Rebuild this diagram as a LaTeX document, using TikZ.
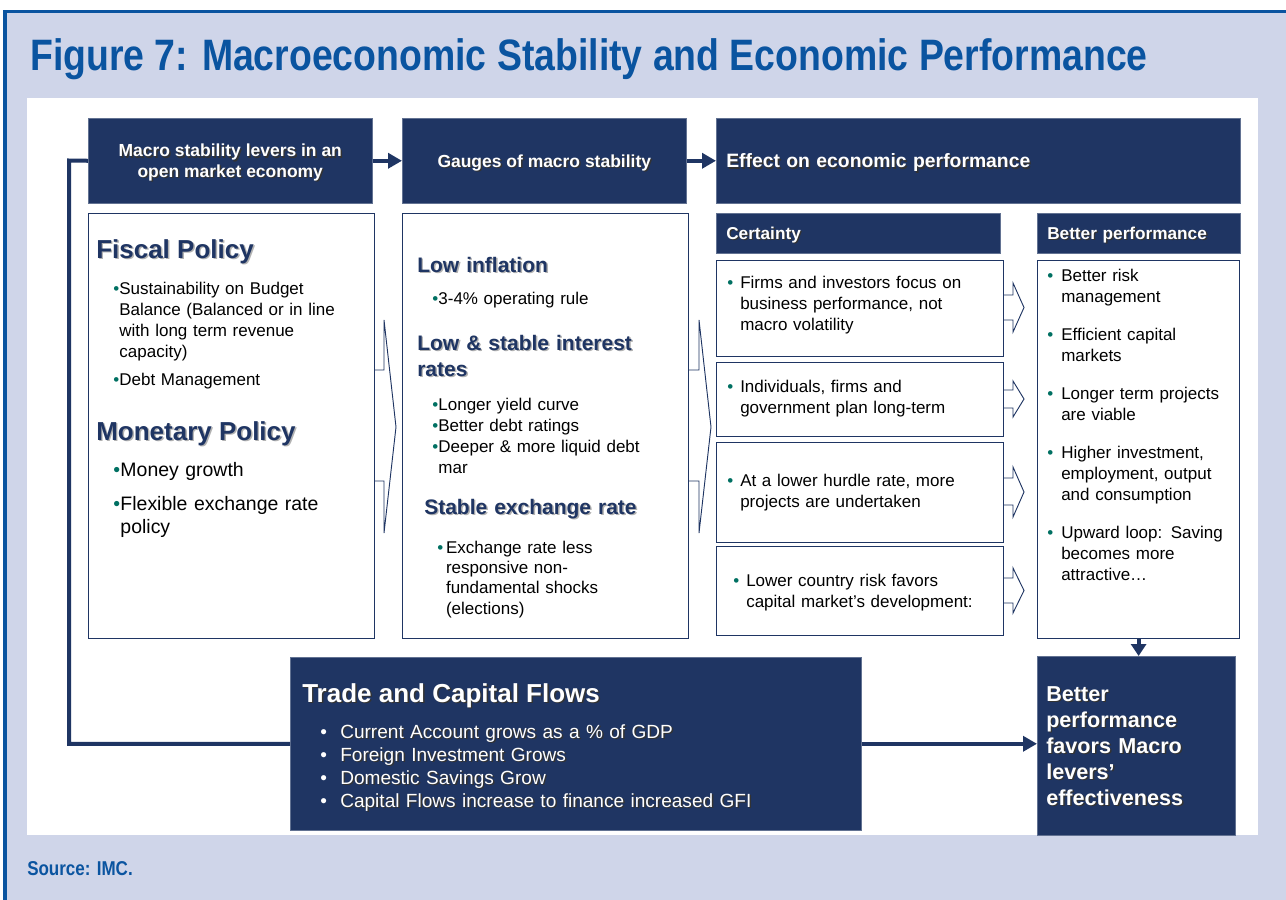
\documentclass[tikz,border=0pt]{standalone}
\usepackage{fontspec}
\setmainfont{Liberation Sans}
\newfontfamily\condfont[FakeStretch=0.85]{Liberation Sans}
\usetikzlibrary{arrows.meta}

\definecolor{navy}{RGB}{31,53,99}
\definecolor{figblue}{RGB}{10,84,160}
\definecolor{lavender}{RGB}{207,213,233}
\definecolor{dotteal}{RGB}{0,112,98}

% bullet item with a hanging indent of #1
\newcommand{\bitem}[2]{{\let\\\newline\hangindent=#1\hangafter=1\makebox[#1][l]{\textcolor{dotteal}{\textbullet}}#2\par}}
% text with a small drop shadow
\newcommand{\shadowed}[2][black!80]{\makebox[0pt][l]{\kern1.1pt\raisebox{-1.1pt}{\textcolor{#1}{#2}}}#2}

\begin{document}
\begin{tikzpicture}[x=0.75pt, y=-0.75pt]
	\tikzstyle{headStyle} = [fill=navy, draw=navy!70, text=white, inner sep=0pt, text depth=0pt, anchor=north west, font=\bfseries\fontsize{13.1pt}{15.5pt}\selectfont]
	\tikzstyle{subHeadStyle} = [headStyle, minimum height=30pt, inner xsep=7.5pt, text width=198pt, align=left, font=\bfseries\fontsize{12.9pt}{15pt}\selectfont]
	\tikzstyle{boxStyle} = [draw=navy, fill=white, line width=0.9pt, inner sep=0pt, anchor=north west]
	\tikzstyle{darkBoxStyle} = [fill=navy, draw=navy!70, inner sep=0pt, anchor=north west]
	\tikzstyle{bigHeading} = [anchor=base west, inner sep=0pt, text=navy, font=\bfseries\fontsize{19.5pt}{23pt}\selectfont]
	\tikzstyle{midHeading} = [anchor=base west, inner sep=0pt, text=navy, text width=200pt, align=left, font=\bfseries\fontsize{15.75pt}{19.5pt}\selectfont]
	\tikzstyle{listStyle} = [anchor=base west, inner sep=0pt, text width=200pt, align=left, font=\fontsize{12.75pt}{15.75pt}\selectfont]
	\tikzstyle{chevronStyle} = [draw=navy, fill=white, line width=0.7pt, line join=miter]
	\tikzstyle{flowLine} = [navy, line width=3pt]
	\tikzstyle{flowArrow} = [flowLine, -{Triangle[length=10.5pt, width=11.25pt]}]

	% page and frame
	\useasboundingbox (0,0) rectangle (1286,900);
	\fill[white] (0,0) rectangle (1286,900);
	\fill[lavender] (5,12) rectangle (1286,900);
	\draw[figblue, line width=2.4pt] (5,900) -- (5,11.5) -- (1286,11.5);
	\fill[white] (27,98) rectangle (1258,835);

	\node[anchor=base west, inner sep=0pt, text=figblue, font=\condfont\bfseries\fontsize{33pt}{36pt}\selectfont] (figTitle) at (30,70) {Figure 7: Macroeconomic Stability and Economic Performance};
	\node[anchor=base west, inner sep=0pt, text=figblue, font=\condfont\bfseries\fontsize{15pt}{18pt}\selectfont] (figSource) at (27,875) {Source: IMC.};

	% block arrows behind the columns
	\draw[chevronStyle] (350,370) -- (384,370) -- (384,320) -- (396,427) -- (384,533) -- (384,481) -- (350,481);
	\draw[chevronStyle] (665,370) -- (699,370) -- (699,320) -- (711,427) -- (699,533) -- (699,481) -- (665,481);
	\draw[chevronStyle] (990,295) -- (1013,295) -- (1013,283) -- (1024,307.5) -- (1013,332) -- (1013,320) -- (990,320);
	\draw[chevronStyle] (990,390) -- (1013,390) -- (1013,381) -- (1024,399) -- (1013,417) -- (1013,408) -- (990,408);
	\draw[chevronStyle] (990,478) -- (1013,478) -- (1013,467) -- (1024,492) -- (1013,517) -- (1013,505) -- (990,505);
	\draw[chevronStyle] (990,578) -- (1013,578) -- (1013,568) -- (1024,590.5) -- (1013,613) -- (1013,603) -- (990,603);

	% column headers
	\node[headStyle, minimum width=213pt, minimum height=63.75pt, align=center] (leverHead) at (88,118) {\shadowed{Macro stability levers in an}\\\shadowed{open market economy}};
	\node[headStyle, minimum width=213pt, minimum height=63.75pt, align=center] (gaugeHead) at (402,118) {\shadowed{Gauges of macro stability}};
	\node[headStyle, minimum height=63.75pt, inner xsep=7.5pt, text width=378pt, align=left, font=\bfseries\fontsize{14.5pt}{17pt}\selectfont] (effectHead) at (716,118) {\shadowed{Effect on economic performance}};
	\node[subHeadStyle] (certHead) at (716,213) {\shadowed{Certainty}};
	\node[subHeadStyle, text width=137pt] (perfHead) at (1037,213) {\shadowed{Better performance}};

	% content boxes
	\node[boxStyle, minimum width=214.5pt, minimum height=318.75pt] (leverBox) at (88,213) {};
	\node[boxStyle, minimum width=214.5pt, minimum height=318.75pt] (gaugeBox) at (402,213) {};
	\node[boxStyle, minimum width=215.25pt, minimum height=72pt] (certA) at (716,260) {};
	\node[boxStyle, minimum width=215.25pt, minimum height=55.5pt] (certB) at (716,362) {};
	\node[boxStyle, minimum width=215.25pt, minimum height=75pt] (certC) at (716,442) {};
	\node[boxStyle, minimum width=215.25pt, minimum height=66.75pt] (certD) at (716,546) {};
	\node[boxStyle, minimum width=151.5pt, minimum height=283.5pt] (perfBox) at (1037,260) {};
	\node[darkBoxStyle, minimum width=428.25pt, minimum height=129.75pt] (tradeBox) at (290,657) {};
	\node[darkBoxStyle, minimum width=148.5pt, minimum height=134.25pt] (loopBox) at (1037,656) {};

	% levers
	\node[bigHeading] (fiscalTitle) at (96,258) {\shadowed[black!30]{Fiscal Policy}};
	\node[listStyle, execute at begin node={\setlength{\parskip}{5.25pt}}] (fiscalList) at (113,294) {\bitem{4.6pt}{Sustainability on Budget\\Balance (Balanced or in line\\with long term revenue\\capacity)}\bitem{4.6pt}{Debt Management}};
	\node[bigHeading] (monetaryTitle) at (96,440) {\shadowed[black!30]{Monetary Policy}};
	\node[listStyle, font=\fontsize{14.6pt}{17.25pt}\selectfont, execute at begin node={\setlength{\parskip}{8.25pt}}] (monetaryList) at (113,476) {\bitem{5.4pt}{Money growth}\bitem{5.4pt}{Flexible exchange rate\\policy}};

	% gauges
	\node[midHeading] (inflTitle) at (417,272) {\shadowed[black!30]{Low inflation}};
	\node[listStyle] (inflList) at (432,304) {\bitem{4.6pt}{3-4\% operating rule}};
	\node[midHeading] (rateTitle) at (417,350) {\shadowed[black!30]{Low \& stable interest}\\\shadowed[black!30]{rates}};
	\node[listStyle] (rateList) at (432,410) {\bitem{4.6pt}{Longer yield curve}\bitem{4.6pt}{Better debt ratings}\bitem{4.6pt}{Deeper \& more liquid debt\\mar}};
	\node[midHeading] (fxTitle) at (424,514) {\shadowed[black!30]{Stable exchange rate}};
	\node[listStyle, font=\fontsize{12.75pt}{15.25pt}\selectfont] (fxList) at (437,553) {\bitem{6.6pt}{Exchange rate less\\responsive non-\\fundamental shocks\\(elections)}};

	% certainty
	\node[listStyle] (certAText) at (727,288) {\bitem{9.75pt}{Firms and investors focus on\\business performance, not\\macro volatility}};
	\node[listStyle] (certBText) at (727,392) {\bitem{9.75pt}{Individuals, firms and\\government plan long-term}};
	\node[listStyle] (certCText) at (727,486) {\bitem{9.75pt}{At a lower hurdle rate, more\\projects are undertaken}};
	\node[listStyle] (certDText) at (733,586) {\bitem{9.75pt}{Lower country risk favors\\capital market’s development:}};

	% better performance
	\node[listStyle, text width=140pt, execute at begin node={\setlength{\parskip}{12.75pt}}] (perfList) at (1047,281) {\bitem{10.5pt}{Better risk\\management}\bitem{10.5pt}{Efficient capital\\markets}\bitem{10.5pt}{Longer term projects\\are viable}\bitem{10.5pt}{Higher investment,\\employment, output\\and consumption}\bitem{10.5pt}{Upward loop: Saving\\becomes more\\attractive…}};

	% trade and capital flows
	\node[anchor=base west, inner sep=0pt, text=white, font=\bfseries\fontsize{19.5pt}{23pt}\selectfont] (tradeTitle) at (302,702) {\shadowed{Trade and Capital Flows}};
	\node[listStyle, text width=400pt, text=white, font=\fontsize{14.3pt}{17.25pt}\selectfont, execute at begin node={\colorlet{dotteal}{white}}] (tradeList) at (320,738) {\bitem{15pt}{\shadowed{Current Account grows as a \% of GDP}}\bitem{15pt}{\shadowed{Foreign Investment Grows}}\bitem{15pt}{\shadowed{Domestic Savings Grow}}\bitem{15pt}{\shadowed{Capital Flows increase to finance increased GFI}}};

	\node[anchor=base west, inner sep=0pt, text width=140pt, align=left, text=white, font=\bfseries\fontsize{16.2pt}{19.5pt}\selectfont] (loopText) at (1046,701) {\shadowed{Better}\\\shadowed{performance}\\\shadowed{favors Macro}\\\shadowed{levers’}\\\shadowed{effectiveness}};

	% flows between blocks
	\draw[flowArrow] (leverHead.east) -- (gaugeHead.west);
	\draw[flowArrow] (gaugeHead.east) -- (effectHead.west);
	\draw[flowArrow] (tradeBox.east) -- (tradeBox.east -| loopBox.west);
	\draw[flowLine, -{Triangle[length=9pt, width=11.25pt]}] (perfBox.south) -- (perfBox.south |- loopBox.north);
	\draw[flowLine] (tradeBox.west) -| (69,160.5) -- (leverHead.west);
\end{tikzpicture}
\end{document}
